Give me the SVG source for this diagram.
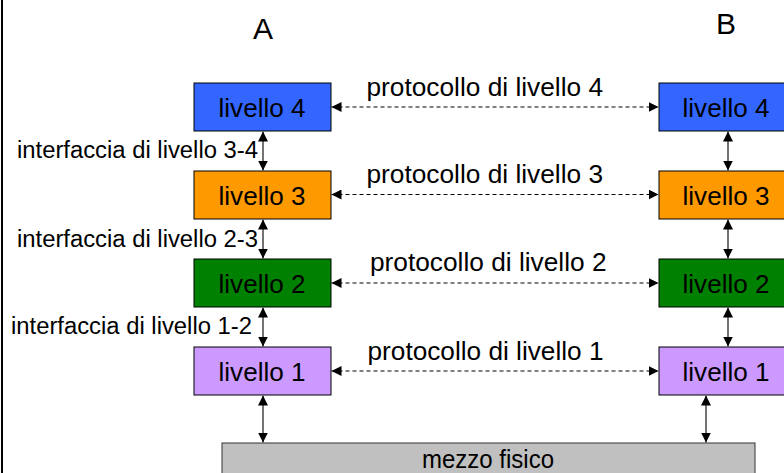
<svg xmlns="http://www.w3.org/2000/svg" width="784" height="473" viewBox="0 0 784 473">
  <style>
    text { font-family: "Liberation Sans", Arial, sans-serif; fill: #000; }
    .box { stroke: #000; stroke-width: 1; }
    .lbl { font-size: 26px; text-anchor: middle; }
    .proto { font-size: 25px; }
    .iface { font-size: 23px; }
    .head { font-size: 30px; text-anchor: middle; }
    .vert { stroke: #444; stroke-width: 1.5; fill: none; marker-start: url(#ah); marker-end: url(#ah); }
    .dash { stroke: #000; stroke-width: 1; stroke-dasharray: 4 3; fill: none; marker-start: url(#ah); marker-end: url(#ah); }
  </style>
  <defs>
    <marker id="ah" markerUnits="userSpaceOnUse" markerWidth="10" markerHeight="10" refX="10" refY="5" orient="auto-start-reverse">
      <path d="M0,0 L10,5 L0,10 z" fill="#000"/>
    </marker>
  </defs>

  <rect width="784" height="473" fill="#fff"/>
  <line x1="2" y1="0" x2="2" y2="473" stroke="#000" stroke-width="2"/>

  <text class="head" x="263" y="39">A</text>
  <text class="head" x="726" y="34">B</text>

  <!-- stack A -->
  <g id="a-l4"><rect class="box" x="194" y="83" width="137" height="48" fill="#3366ff"/><text class="lbl" x="262" y="117" textLength="87" lengthAdjust="spacingAndGlyphs">livello 4</text></g>
  <g id="a-l3"><rect class="box" x="194" y="171" width="137" height="48" fill="#ff9900"/><text class="lbl" x="262" y="204.5" textLength="87" lengthAdjust="spacingAndGlyphs">livello 3</text></g>
  <g id="a-l2"><rect class="box" x="194" y="259" width="137" height="48" fill="#008000"/><text class="lbl" x="262" y="293" textLength="87" lengthAdjust="spacingAndGlyphs">livello 2</text></g>
  <g id="a-l1"><rect class="box" x="194" y="347" width="137" height="48" fill="#cc99ff"/><text class="lbl" x="262" y="381" textLength="87" lengthAdjust="spacingAndGlyphs">livello 1</text></g>

  <!-- stack B -->
  <g id="b-l4"><rect class="box" x="659" y="83" width="137" height="48" fill="#3366ff"/><text class="lbl" x="726" y="117" textLength="87" lengthAdjust="spacingAndGlyphs">livello 4</text></g>
  <g id="b-l3"><rect class="box" x="659" y="171" width="137" height="48" fill="#ff9900"/><text class="lbl" x="726" y="204.5" textLength="87" lengthAdjust="spacingAndGlyphs">livello 3</text></g>
  <g id="b-l2"><rect class="box" x="659" y="259" width="137" height="48" fill="#008000"/><text class="lbl" x="726" y="293" textLength="87" lengthAdjust="spacingAndGlyphs">livello 2</text></g>
  <g id="b-l1"><rect class="box" x="659" y="347" width="137" height="48" fill="#cc99ff"/><text class="lbl" x="726" y="381" textLength="87" lengthAdjust="spacingAndGlyphs">livello 1</text></g>

  <!-- physical medium -->
  <g id="mezzo"><rect x="222" y="443" width="533" height="40" fill="#c0c0c0" stroke="#333" stroke-width="1"/><text x="422" y="468" font-size="25" textLength="132" lengthAdjust="spacingAndGlyphs">mezzo fisico</text></g>

  <!-- connectors -->
  <g id="connectors">
    <line class="vert" x1="263" y1="131.5" x2="263" y2="170.5"/>
    <line class="vert" x1="263" y1="219.5" x2="263" y2="258.5"/>
    <line class="vert" x1="263" y1="307.5" x2="263" y2="346.5"/>
    <line class="vert" x1="263" y1="395.5" x2="263" y2="442.5"/>
    <line class="vert" x1="728" y1="131.5" x2="728" y2="170.5"/>
    <line class="vert" x1="728" y1="219.5" x2="728" y2="258.5"/>
    <line class="vert" x1="728" y1="307.5" x2="728" y2="346.5"/>
    <line class="vert" x1="706" y1="395.5" x2="706" y2="442.5"/>
    <line class="dash" x1="331.5" y1="107" x2="658.5" y2="107"/>
    <line class="dash" x1="331.5" y1="194.5" x2="658.5" y2="194.5"/>
    <line class="dash" x1="331.5" y1="283" x2="658.5" y2="283"/>
    <line class="dash" x1="331.5" y1="371" x2="658.5" y2="371"/>
  </g>

  <!-- protocol labels -->
  <text class="proto" x="366.5" y="96" textLength="236.5" lengthAdjust="spacingAndGlyphs">protocollo di livello 4</text>
  <text class="proto" x="366.5" y="183" textLength="236.5" lengthAdjust="spacingAndGlyphs">protocollo di livello 3</text>
  <text class="proto" x="370" y="271" textLength="236.5" lengthAdjust="spacingAndGlyphs">protocollo di livello 2</text>
  <text class="proto" x="367.5" y="360" textLength="236" lengthAdjust="spacingAndGlyphs">protocollo di livello 1</text>

  <!-- interface labels -->
  <text class="iface" x="17" y="158" textLength="241" lengthAdjust="spacingAndGlyphs">interfaccia di livello 3-4</text>
  <text class="iface" x="17" y="247" textLength="241" lengthAdjust="spacingAndGlyphs">interfaccia di livello 2-3</text>
  <text class="iface" x="11" y="334" textLength="241" lengthAdjust="spacingAndGlyphs">interfaccia di livello 1-2</text>
</svg>
